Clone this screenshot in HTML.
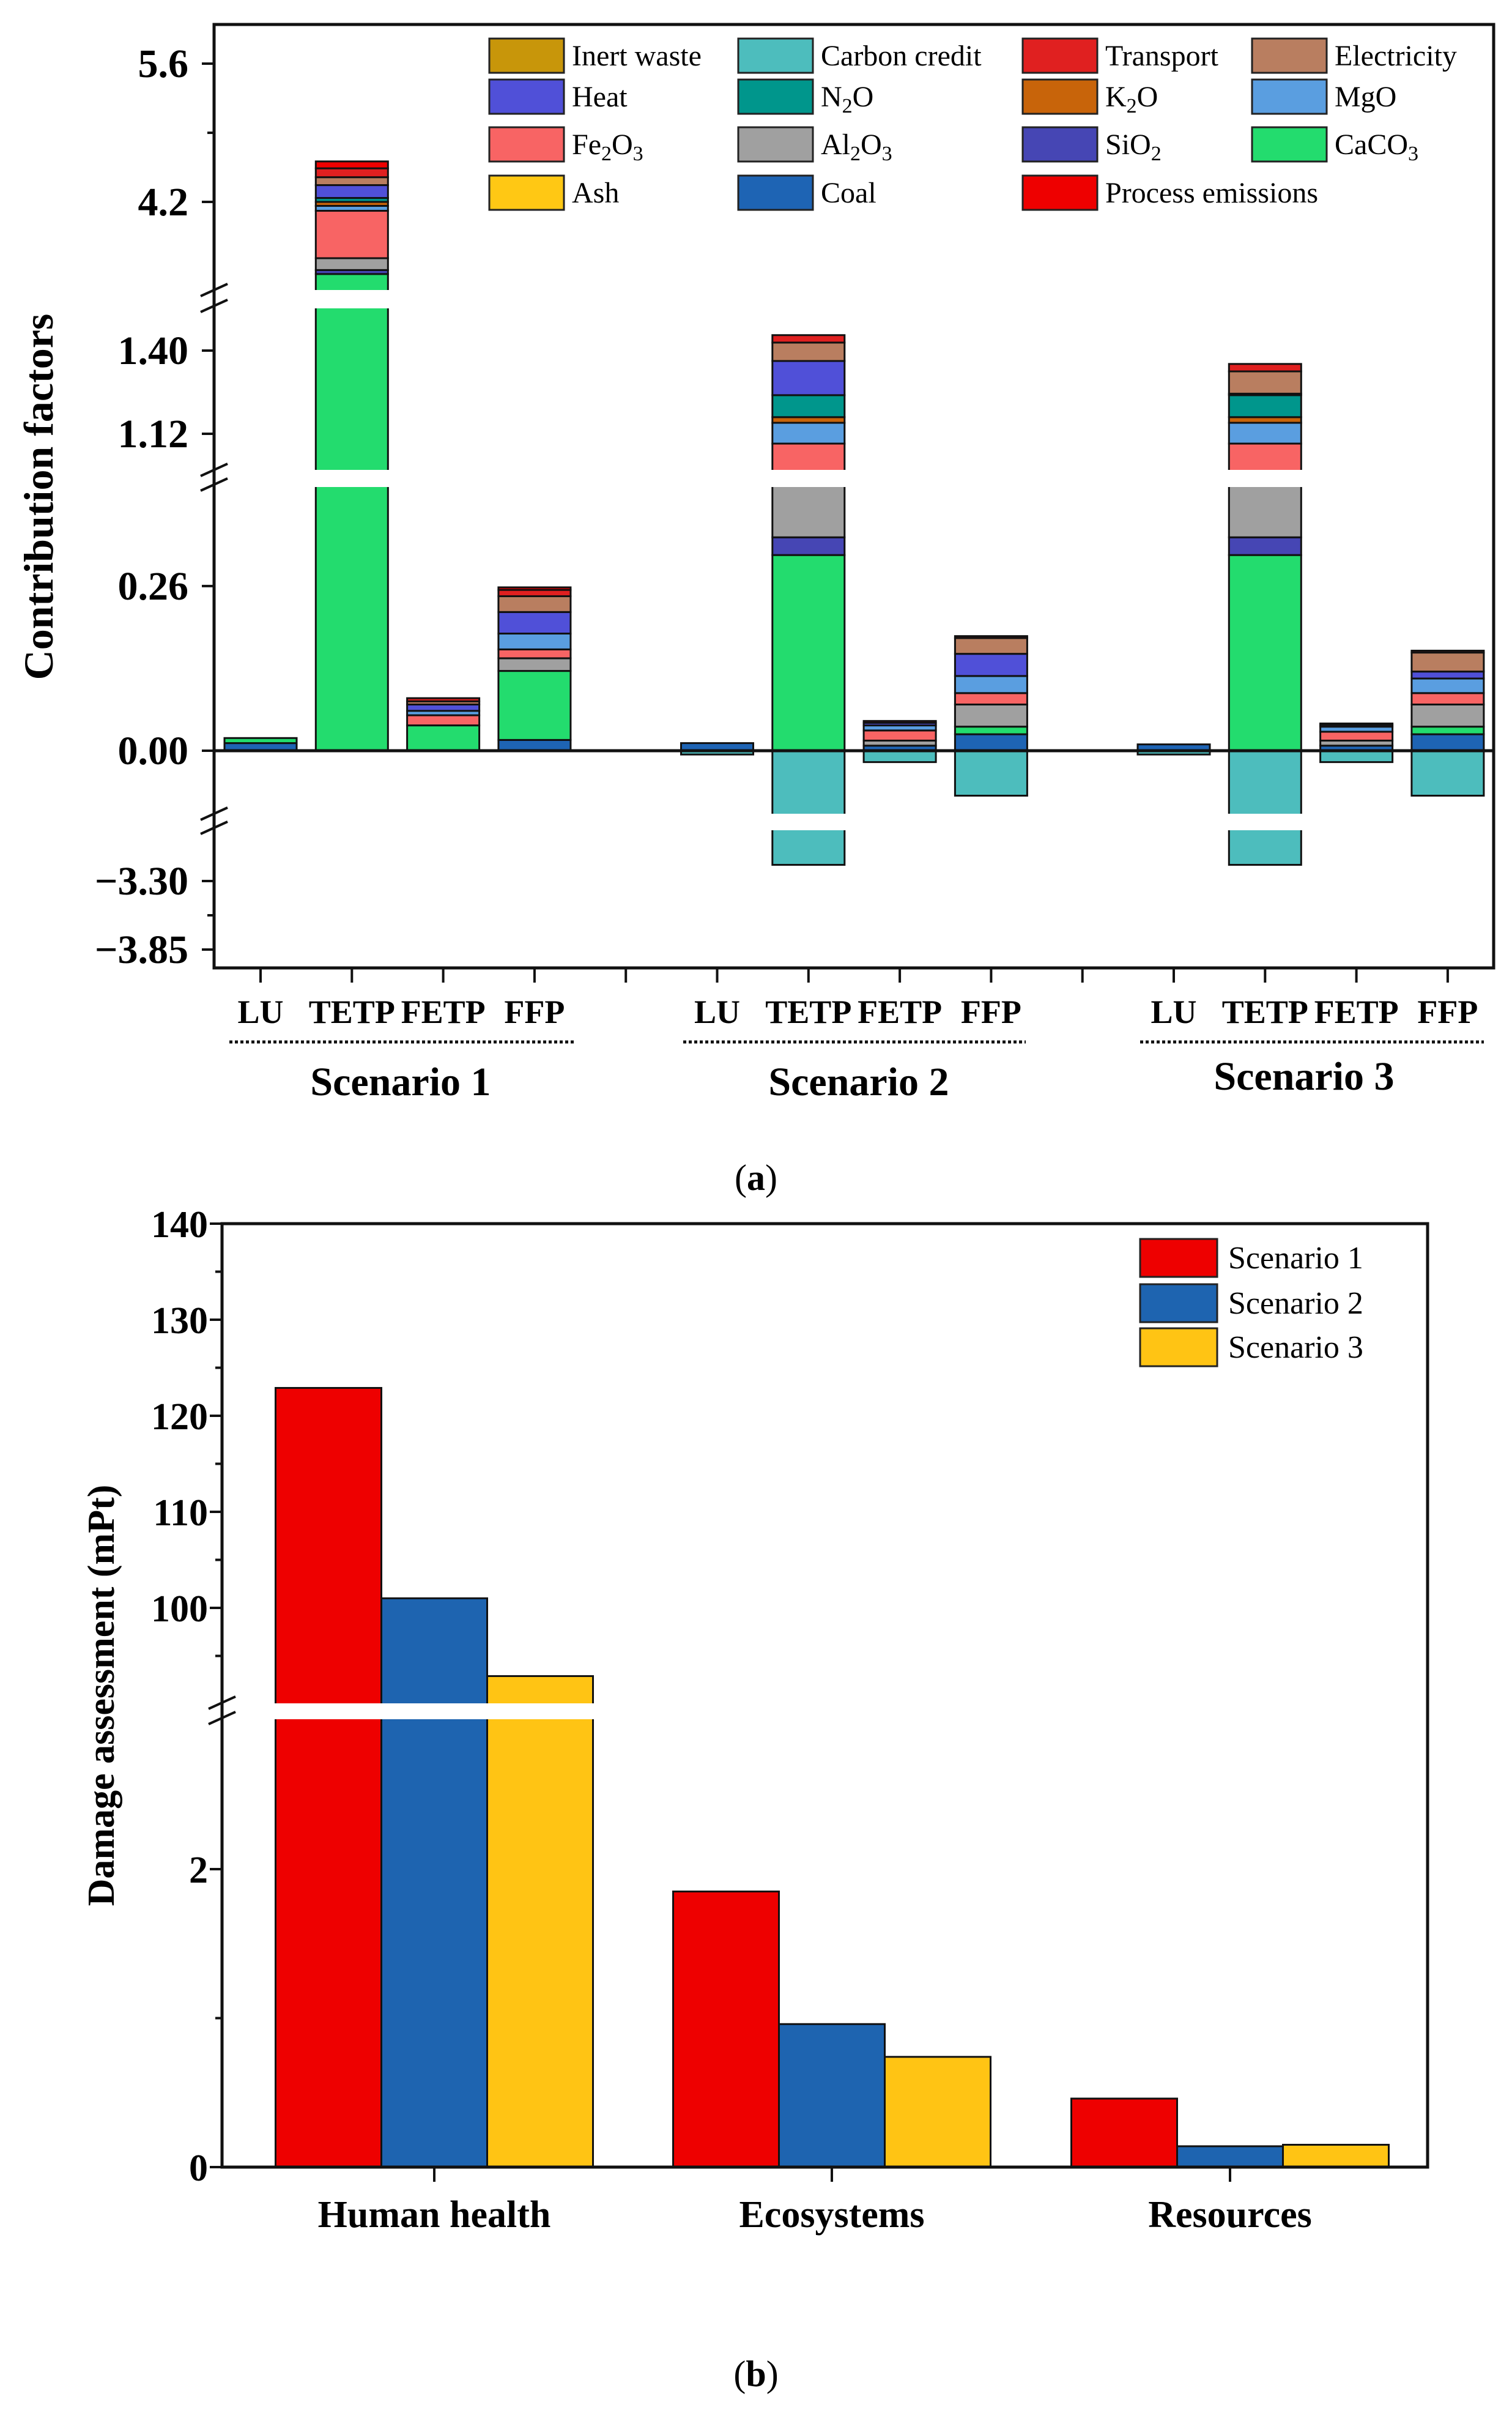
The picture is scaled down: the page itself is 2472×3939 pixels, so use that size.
<!DOCTYPE html>
<html><head><meta charset="utf-8"><style>
html,body{margin:0;padding:0;background:#fff;}
svg{display:block;font-family:"Liberation Serif",serif;}
</style></head><body>
<svg id="svg" xmlns="http://www.w3.org/2000/svg" width="2472" height="3939" viewBox="0 0 2472 3939">
<rect width="2472" height="3939" fill="#fff"/>
<g id="chartA"></g>
<g id="chartB"></g>
<text x="1236" y="1945" text-anchor="middle" font-size="60">(<tspan font-weight="bold">a</tspan>)</text>
<text x="1236" y="3900" text-anchor="middle" font-size="60">(<tspan font-weight="bold">b</tspan>)</text>
</svg>
<script>
// ---------- Chart A data ----------
const components = ["Coal","CaCO3","SiO2","Al2O3","Fe2O3","MgO","K2O","N2O","Heat","Electricity","Transport","Process emissions"];
const categoriesA = ["LU","TETP","FETP","FFP"];
const scenarios = ["Scenario 1","Scenario 2","Scenario 3"];
const s1_LU   = [0.012,0.008,0,0,0,0,0,0,0,0,0,0];
const s1_TETP = [0,3.47,0.04,0.12,0.48,0.05,0.04,0.04,0.13,0.08,0.09,0.07];
const s1_FETP = [0,0.040,0,0,0.016,0.007,0,0,0.010,0.005,0.005,0];
const s1_FFP  = [0.017,0.109,0,0.020,0.014,0.025,0,0,0.034,0.025,0.010,0.004];
const s2_LU   = [0.012,0,0,0,0,0,0,0,0,0,0,0];
const s2_TETP = [0,0.309,0.028,0.643,0.107,0.07,0.019,0.074,0.115,0.062,0.025,0];
const s2_FETP = [0.008,0,0,0.008,0.016,0.008,0,0,0.004,0,0.003,0];
const s2_FFP  = [0.026,0.012,0,0.035,0.018,0.027,0,0,0.035,0.025,0.003,0];
const s3_LU   = [0.010,0,0,0,0,0,0,0,0,0,0,0];
const s3_TETP = [0,0.309,0.028,0.643,0.107,0.07,0.019,0.074,0.005,0.075,0.025,0];
const s3_FETP = [0.008,0,0,0.008,0.014,0.008,0,0,0.003,0,0.002,0];
const s3_FFP  = [0.026,0.012,0,0.035,0.018,0.023,0,0,0.011,0.030,0.003,0];
const carbonCredit = [[0,0,0,0],[0.006,3.17,0.018,0.071],[0.006,3.17,0.018,0.071]];
const yTicksA = [5.6,4.2,1.40,1.12,0.26,0.00,-3.30,-3.85];
const yTickLabelsA = ["5.6","4.2","1.40","1.12","0.26","0.00","\u22123.30","\u22123.85"];

const colors = {"Coal":"#1e64b4","CaCO3":"#23dc6e","SiO2":"#4646b4","Al2O3":"#a0a0a0","Fe2O3":"#f86464","MgO":"#5a9ee0","K2O":"#c8640a","N2O":"#00968c","Heat":"#5050d8","Electricity":"#b97e60","Transport":"#e02020","Process emissions":"#ee0000","Carbon credit":"#4dbdbd","Ash":"#ffc814","Inert waste":"#c8960a"};

const NS="http://www.w3.org/2000/svg";
function mk(parent,tag,attrs){const e=document.createElementNS(NS,tag);for(const k in attrs)e.setAttribute(k,attrs[k]);parent.appendChild(e);return e;}

function yA(v){
  if(v>=3.26) return 330-(v-4.2)*161.4;
  if(v>=1.59) return 481;
  if(v>=0.97) return 573-(v-1.40)*485.7;
  if(v>=0.43) return 782;
  if(v>=-0.112) return 1227-v*1035;
  if(v>-2.82) return 1343;
  return 1440-(v+3.30)*203.6;
}
const LA=350,RA=2442,TA=40,BA=1582;
function xA(s,c){return 426+(s*5+c)*149.3;}

const gA=document.getElementById('chartA');
const bars=[[s1_LU,s1_TETP,s1_FETP,s1_FFP],[s2_LU,s2_TETP,s2_FETP,s2_FFP],[s3_LU,s3_TETP,s3_FETP,s3_FFP]];
const BW=118;
for(let s=0;s<3;s++){for(let c=0;c<4;c++){
  const vals=bars[s][c];let cum=0;const x=xA(s,c)-BW/2;
  for(let k=0;k<components.length;k++){
    const v=vals[k];if(!v)continue;
    const y0=yA(cum),y1=yA(cum+v);cum+=v;
    const r=mk(gA,'rect',{x:x,y:y1,width:BW,height:Math.max(0,y0-y1),fill:colors[components[k]],stroke:'#111','stroke-width':3});
    
    
  }
  const neg=carbonCredit[s][c];
  if(neg){const y0=yA(0),y1=yA(-neg);
    const r=mk(gA,'rect',{x:x,y:y0,width:BW,height:y1-y0,fill:colors["Carbon credit"],stroke:'#111','stroke-width':3});
    
    }
}}
[[474,504],[768,796],[1330,1357]].forEach((g,i)=>{
  const r=mk(gA,'rect',{x:LA+3,y:g[0],width:RA-LA-6,height:g[1]-g[0],fill:'#fff'});
  
  
  mk(gA,'line',{x1:LA-22,y1:g[1]+6,x2:LA+22,y2:g[1]-14,stroke:'#111','stroke-width':4});
  mk(gA,'line',{x1:LA-22,y1:g[0]+10,x2:LA+22,y2:g[0]-10,stroke:'#111','stroke-width':4});
});
mk(gA,'line',{x1:LA,y1:yA(0),x2:RA,y2:yA(0),stroke:'#111','stroke-width':5});
const fr=mk(gA,'rect',{x:LA,y:TA,width:RA-LA,height:BA-TA,fill:'none',stroke:'#111','stroke-width':5});

yTicksA.forEach((t,i)=>{const y=yA(t);
  mk(gA,'line',{x1:LA-20,y1:y,x2:LA,y2:y,stroke:'#111','stroke-width':4});
  const tx=mk(gA,'text',{x:308,y:y+22,'text-anchor':'end','font-size':66,'font-weight':'bold'});
  tx.textContent=yTickLabelsA[i];
  
});
[4.9,-3.575].forEach(t=>mk(gA,'line',{x1:LA-11,y1:yA(t),x2:LA,y2:yA(t),stroke:'#111','stroke-width':4}));
for(let i=0;i<14;i++){const x=426+i*149.3;mk(gA,'line',{x1:x,y1:BA,x2:x,y2:BA+24,stroke:'#111','stroke-width':4});}
for(let s=0;s<3;s++){
  for(let c=0;c<4;c++){const t=mk(gA,'text',{x:xA(s,c),y:1672,'text-anchor':'middle','font-size':54,'font-weight':'bold'});
    t.textContent=categoriesA[c];}
  const x0=[375,1117,1864][s],x1=[938,1677,2426][s];
  mk(gA,'line',{x1:x0,y1:1703,x2:x1,y2:1703,stroke:'#111','stroke-width':5,'stroke-dasharray':'5 4'});
  const st=mk(gA,'text',{x:[655,1404,2132][s],y:[1790,1790,1781][s],'text-anchor':'middle','font-size':66,'font-weight':'bold'});
  st.textContent=scenarios[s];
}
const yt=mk(gA,'text',{x:0,y:0,transform:'translate(86,812) rotate(-90)','text-anchor':'middle','font-size':68,'font-weight':'bold'});
yt.textContent='Contribution factors';
const legendA=[["Inert waste","Inert waste"],["Carbon credit","Carbon credit"],["Transport","Transport"],["Electricity","Electricity"],
["Heat","Heat"],["N2O","N|2|O"],["K2O","K|2|O"],["MgO","MgO"],
["Fe2O3","Fe|2|O|3|"],["Al2O3","Al|2|O|3|"],["SiO2","SiO|2|"],["CaCO3","CaCO|3|"],
["Ash","Ash"],["Coal","Coal"],["Process emissions","Process emissions"]];
const lgx=[800,1207,1672,2047],lgy=[91,158,236,315];
legendA.forEach((L,i)=>{const col=i%4,row=Math.floor(i/4);
  const g=mk(gA,'g',{});
  mk(g,'rect',{x:lgx[col],y:lgy[row]-28,width:122,height:56,fill:colors[L[0]],stroke:'#222','stroke-width':3});
  const t=mk(g,'text',{x:lgx[col]+135,y:lgy[row]+16,'font-size':48});
  const parts=L[1].split('|');
  parts.forEach((p,j)=>{if(!p)return;const ts=mk(t,'tspan',{});
    if(j%2==1){ts.setAttribute('dy','10');ts.setAttribute('font-size','34');}
    else if(j>0){ts.setAttribute('dy','-10');}
    ts.textContent=p;});
});

// ---------- Chart B data ----------
const categoriesB = ["Human health","Ecosystems","Resources"];
const scenario1 = [122.9,1.85,0.46];
const scenario2 = [101.0,0.96,0.14];
const scenario3 = [92.9,0.74,0.15];
const yTicksB = [140,130,120,110,100,2,0];
const yTickLabelsB = ["140","130","120","110","100","2","0"];
const colorsB=["#ee0000","#1e64b0","#ffc414"];
const LB=363,RB=2334,TB=2000,BB=3542;
function yB(v){
  if(v>=89.2) return 2628-(v-100)*15.7;
  if(v>=3.06) return 2797;
  return 3542-v*243.5;
}
const gB=document.getElementById('chartB');
const seriesB=[scenario1,scenario2,scenario3];
const BWB=173;
for(let c=0;c<3;c++){const cx=[710,1360,2011][c];
  for(let s=0;s<3;s++){const x=cx-1.5*BWB+s*BWB,y=yB(seriesB[s][c]);
    const r=mk(gB,'rect',{x:x,y:y,width:BWB,height:BB-y,fill:colorsB[s],stroke:'#111','stroke-width':3});
    
    }
  mk(gB,'line',{x1:cx,y1:BB,x2:cx,y2:BB+24,stroke:'#111','stroke-width':4});
  const t=mk(gB,'text',{x:cx,y:3640,'text-anchor':'middle','font-size':62,'font-weight':'bold'});
  t.textContent=categoriesB[c];
}
const gap=mk(gB,'rect',{x:LB+3,y:2784,width:RB-LB-6,height:26,fill:'#fff'});

mk(gB,'line',{x1:LB-22,y1:2793,x2:LB+22,y2:2773,stroke:'#111','stroke-width':4});
mk(gB,'line',{x1:LB-22,y1:2818,x2:LB+22,y2:2798,stroke:'#111','stroke-width':4});
const frb=mk(gB,'rect',{x:LB,y:TB,width:RB-LB,height:BB-TB,fill:'none',stroke:'#111','stroke-width':5});

yTicksB.forEach((t,i)=>{const y=yB(t);
  mk(gB,'line',{x1:LB-20,y1:y,x2:LB,y2:y,stroke:'#111','stroke-width':4});
  const tx=mk(gB,'text',{x:340,y:y+22,'text-anchor':'end','font-size':62,'font-weight':'bold'});
  tx.textContent=yTickLabelsB[i];});
[135,125,115,105,95,1].forEach(t=>mk(gB,'line',{x1:LB-11,y1:yB(t),x2:LB,y2:yB(t),stroke:'#111','stroke-width':4}));
const ytb=mk(gB,'text',{x:0,y:0,transform:'translate(186,2771) rotate(-90)','text-anchor':'middle','font-size':62,'font-weight':'bold'});
ytb.textContent='Damage assessment (mPt)';
scenarios.forEach((n,i)=>{const y=[2056,2130,2202][i];
  const g=mk(gB,'g',{});
  mk(g,'rect',{x:1864,y:y-31,width:126,height:62,fill:colorsB[i],stroke:'#222','stroke-width':3});
  const t=mk(g,'text',{x:2008,y:y+17,'font-size':52});t.textContent=n;});
</script>
</body></html>
